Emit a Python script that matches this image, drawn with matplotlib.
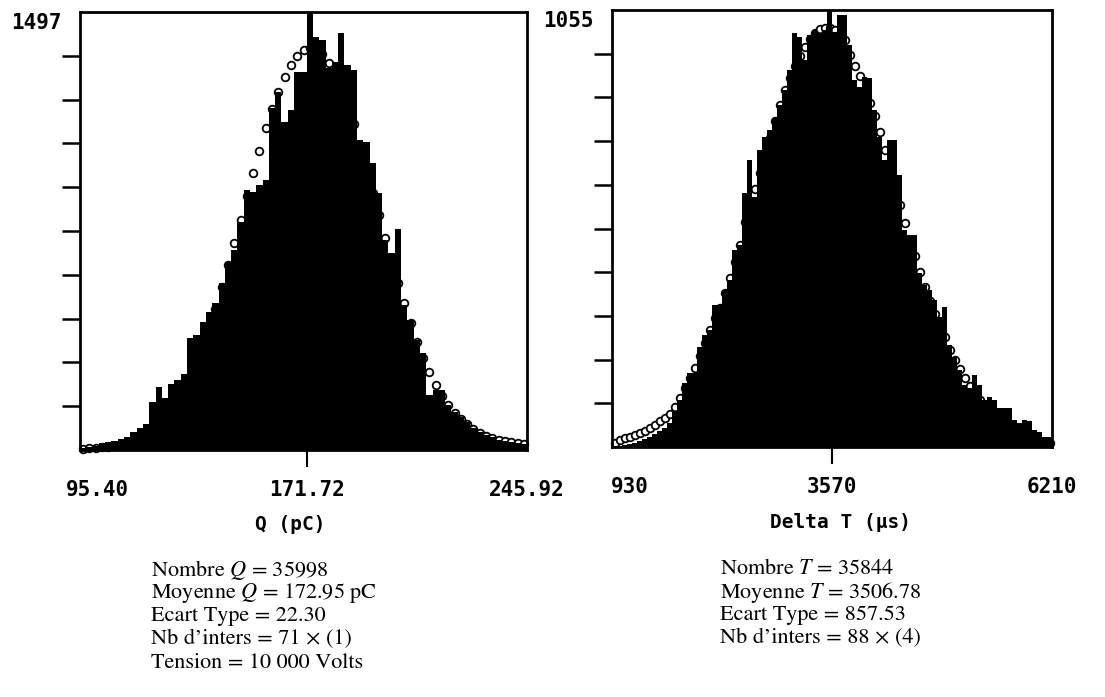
import matplotlib
matplotlib.use("Agg")
import matplotlib.pyplot as plt
import numpy as np

# ---- charge histogram, 71 intervals ----
q_range = (95.40, 245.92)
q_mid = 171.72
q_top = 1497
q_counts = [7, 10, 14, 24, 27, 31, 38, 44, 62, 75,
            89, 164, 215, 178, 226, 239, 260, 383, 393, 437,
            472, 502, 571, 643, 684, 779, 889, 882, 906, 923,
            1169, 1224, 1121, 1162, 1292, 1292, 1497, 1412, 1401, 1306,
            1326, 1425, 1316, 1299, 1060, 1053, 981, 878, 718, 673,
            755, 496, 444, 376, 332, 188, 205, 205, 154, 130,
            113, 96, 75, 62, 51, 44, 34, 31, 27, 24,
            21]
q_fit = [3, 7, 7, 10, 10, 14, 17, 21, 27, 34,
         44, 58, 75, 96, 123, 154, 191, 236, 287, 345,
         410, 482, 557, 632, 708, 786, 868, 947, 1022, 1101,
         1166, 1224, 1275, 1316, 1347, 1367, 1374, 1371, 1354, 1323,
         1285, 1241, 1186, 1114, 1032, 957, 878, 803, 725, 649,
         571, 502, 434, 369, 315, 267, 222, 185, 154, 126,
         106, 89, 72, 58, 48, 41, 34, 31, 27, 24,
         21]
q_xlabel = "Q (pC)"
q_ticklabels = ["95.40", "171.72", "245.92"]
q_stats = ["Nombre $Q$ = 35998",
           "Moyenne $Q$ = 172.95 pC",
           "Ecart Type = 22.30",
           "Nb d\u2019inters = 71 \u00d7 (1)",
           "Tension = 10 000 Volts"]

# ---- time histogram, 88 intervals ----
t_range = (930, 6210)
t_mid = 3570
t_top = 1055
t_counts = [2, 2, 5, 7, 10, 14, 19, 24, 31, 39,
            46, 58, 84, 113, 154, 179, 179, 241, 270, 282,
            343, 343, 379, 403, 476, 488, 613, 693, 604, 717,
            748, 765, 794, 826, 862, 910, 999, 990, 934, 995,
            1007, 999, 1007, 1055, 1002, 1043, 1043, 970, 886, 869,
            893, 891, 814, 748, 693, 741, 741, 657, 524, 512,
            512, 420, 391, 379, 355, 314, 338, 246, 217, 186,
            150, 142, 174, 150, 113, 121, 113, 94, 94, 94,
            65, 58, 65, 63, 41, 36, 24, 24]
t_fit = [10, 17, 22, 24, 29, 34, 39, 46, 53, 63,
         70, 80, 97, 118, 142, 167, 191, 220, 251, 282,
         311, 336, 372, 408, 447, 488, 543, 584, 623, 661,
         705, 746, 787, 826, 862, 891, 920, 944, 966, 985,
         999, 1009, 1011, 1011, 1007, 997, 982, 946, 920, 896,
         862, 830, 799, 760, 717, 674, 632, 584, 541, 500,
         461, 422, 386, 352, 321, 292, 266, 234, 210, 188,
         167, 147, 130, 113, 99, 84, 72, 63, 53, 43,
         36, 31, 27, 22, 17, 14, 12, 10]
t_xlabel = "Delta T (\u00b5s)"
t_ticklabels = ["930", "3570", "6210"]
t_stats = ["Nombre $T$ = 35844",
           "Moyenne $T$ = 3506.78",
           "Ecart Type = 857.53",
           "Nb d\u2019inters = 88 \u00d7 (4)"]

plt.rcParams["mathtext.fontset"] = "stix"
NUM = dict(family="DejaVu Sans Mono", weight="bold", size=15)
LAB = dict(family="DejaVu Sans Mono", weight="bold", size=14)


def draw_hist(ax, counts, fit, xr, xmid, ytop, ticklabels, xlabel,
              left_shift, label_shift):
    n = len(counts)
    edges = np.linspace(xr[0], xr[1], n + 1)
    centers = 0.5 * (edges[:-1] + edges[1:])
    width = edges[1] - edges[0]

    # fitted points sit behind the bars, as in the original print
    ax.plot(centers, fit, "o", ms=5.5, mfc="white", mec="black", mew=1.3,
            zorder=1, clip_on=False)
    ax.bar(centers, counts, width=width, color="black", linewidth=0,
           zorder=2)

    ax.set_xlim(xr)
    ax.set_ylim(0, ytop)
    for s in ax.spines.values():
        s.set_linewidth(2)

    ax.set_xticks([xmid])
    ax.set_yticks(np.linspace(0, ytop, 11)[1:-1])
    ax.tick_params(axis="x", direction="out", length=12, width=1.5,
                   labelbottom=False)
    ax.tick_params(axis="y", direction="out", length=13, width=1.8,
                   labelleft=False)

    xpos = [xr[0], xmid, xr[1]]
    shifts = [left_shift, 0, 0]
    for x, lab, dx in zip(xpos, ticklabels, shifts):
        ax.annotate(lab, xy=(x, 0), xycoords=("data", "axes fraction"),
                    xytext=(dx, -40), textcoords="offset pixels",
                    ha="center", va="center", **NUM)
    ax.annotate(xlabel, xy=(0.5, 0), xycoords="axes fraction",
                xytext=(label_shift, -75), textcoords="offset pixels",
                ha="center", va="center", **LAB)
    ax.annotate(str(ytop), xy=(0, 1), xycoords="axes fraction",
                xytext=(-18, -1), textcoords="offset pixels",
                ha="right", va="top", **NUM)


fig = plt.figure(figsize=(11.05, 6.97), dpi=100)
ax_q = fig.add_axes([80 / 1105, 1 - 450 / 697, 447 / 1105, 438 / 697])
ax_t = fig.add_axes([612 / 1105, 1 - 447 / 697, 440 / 1105, 437 / 697])

draw_hist(ax_q, q_counts, q_fit, q_range, q_mid, q_top,
          q_ticklabels, q_xlabel, 17, -13)
draw_hist(ax_t, t_counts, t_fit, t_range, t_mid, t_top,
          t_ticklabels, t_xlabel, 18, 9)

for lines, x0, y0 in [(q_stats, 151, 570), (t_stats, 720, 569)]:
    for k, line in enumerate(lines):
        fig.text(x0 / 1105, 1 - (y0 + 23.2 * k) / 697, line,
                 family=["STIXGeneral", "DejaVu Serif"], fontsize=16,
                 ha="left", va="center")

fig.savefig("out.png", dpi=100, facecolor="white")
